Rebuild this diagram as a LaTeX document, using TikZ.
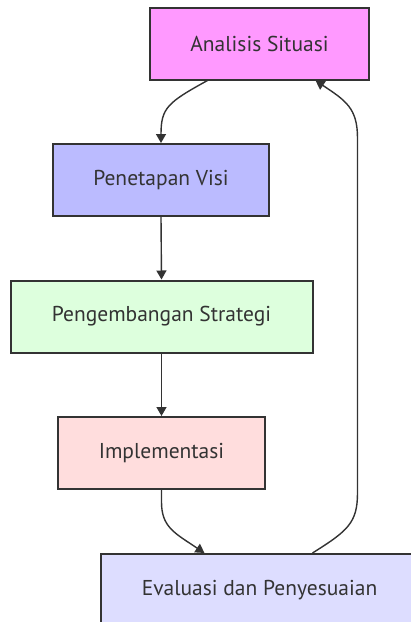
\documentclass[tikz,border=0pt]{standalone}
\usepackage{fontspec}
\setmainfont{PT Sans}
\usetikzlibrary{arrows.meta}
\definecolor{edge}{HTML}{333333}
\definecolor{fA}{HTML}{FF99FF}
\definecolor{fV}{HTML}{BBBBFF}
\definecolor{fS}{HTML}{DDFFDD}
\definecolor{fI}{HTML}{FFDDDD}
\definecolor{fE}{HTML}{DDDDFF}
\tikzset{
  stage/.style={draw=edge, line width=2pt, text=edge, minimum height=72pt,
    font=\fontsize{21.5}{24}\selectfont, inner sep=0pt},
  flow/.style={draw=edge, line width=1.4pt,
    -{Triangle[length=9pt,width=10pt]}},
}
\begin{document}
\begin{tikzpicture}[x=1pt,y=-1pt]
\useasboundingbox (0,0) rectangle (411,622);
\clip (0,0) rectangle (411,622);
\node[stage, fill=fA, minimum width=219pt] (A) at (259.5,43.5) {Analisis Situasi};
\node[stage, fill=fV, minimum width=216pt] (V) at (161,180) {Penetapan Visi};
\node[stage, fill=fS, minimum width=302pt] (S) at (161.5,316.5) {Pengembangan Strategi};
\node[stage, fill=fI, minimum width=207pt] (I) at (161.5,453) {Implementasi};
\node[stage, fill=fE, minimum width=318pt] (E) at (259.5,590) {Evaluasi dan Penyesuaian};

\draw[flow] ([xshift=-52pt]A.south) .. controls +(-40,22) and +(0,-35) .. (V.north);
\draw[flow] (V.south) -- (S.north);
\draw[flow] (S.south) -- (I.north);
\draw[flow] (I.south) -- ++(0,12) .. controls +(0,25) and +(-30,-20) .. ([xshift=-55pt]E.north);
\draw[flow] ([xshift=53pt]E.north) .. controls +(35,-22) and +(0,30) .. ++(45,-60)
  -- ++(0,-355) .. controls +(0,-30) and +(30,20) .. ([xshift=56pt]A.south);
\end{tikzpicture}
\end{document}
